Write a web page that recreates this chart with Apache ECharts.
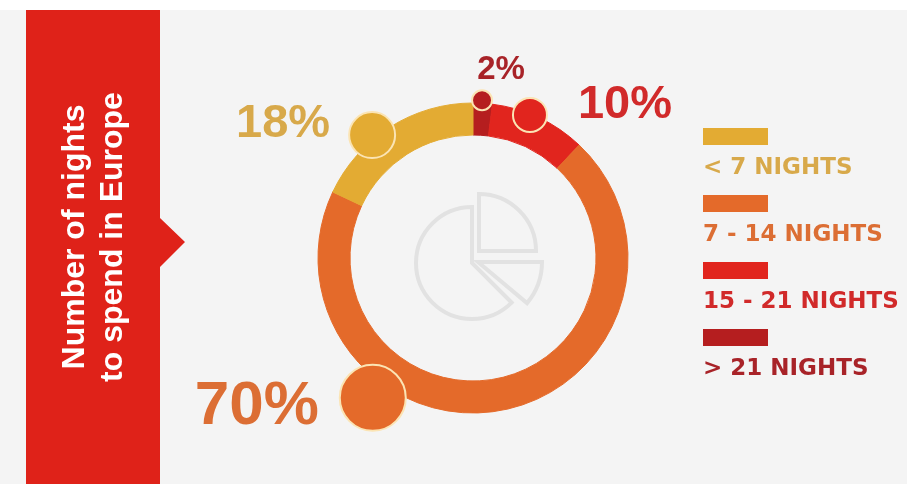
<!DOCTYPE html>
<html>
<head>
<meta charset="utf-8">
<script src="https://cdn.jsdelivr.net/npm/echarts@6/dist/echarts.min.js"></script>
<style>
  html, body { margin: 0; padding: 0; background: #ffffff; }
  #panel { position: absolute; left: 0; top: 10px; width: 907px; height: 474px; background: #f4f4f4; }
  #chart { position: absolute; left: 0; top: 0; width: 907px; height: 484px; }
</style>
</head>
<body>
<div id="panel"></div>
<div id="chart"></div>
<script>
// Share of travellers by length of stay (percent)
const categories = ['< 7 NIGHTS', '7 - 14 NIGHTS', '15 - 21 NIGHTS', '> 21 NIGHTS'];
const shares = [18, 70, 10, 2];
const title = 'Number of nights\nto spend in Europe';

// Styling per category
const fillColors = ['#e3ab33', '#e46a2a', '#e1251e', '#b51e1f'];
const textColors = ['#d8a94a', '#dc6e34', '#d12a2a', '#a82328'];

// Callout bubbles: where they sit along the ring (angle in percent of a turn, radius in px)
const bubbleAngle = [89.06, 59.9, 6.03, 0.91];
const bubbleRadius = [159, 172, 154, 158];
const bubbleSize = [46, 66, 34, 20];
const labelOffset = [[-89, -11], [-116, 9], [95, -10], [19, -30]];
const labelSize = [47, 62, 47, 33];

const CX = 473, CY = 258;

const chart = echarts.init(document.getElementById('chart'), null, { renderer: 'canvas' });

// ring runs clockwise from the top: longest stays first
const order = [3, 2, 1, 0];

const legendGraphics = [];
categories.forEach(function (name, i) {
  legendGraphics.push({
    type: 'rect',
    shape: { x: 703, y: 128 + i * 67, width: 65, height: 17 },
    style: { fill: fillColors[i] }
  });
  legendGraphics.push({
    type: 'text',
    x: 703, y: 168 + i * 67,
    style: {
      text: name,
      fill: textColors[i],
      font: 'bold 23px "DejaVu Sans"',
      align: 'left',
      verticalAlign: 'middle'
    }
  });
});

const iconStroke = { fill: 'none', stroke: '#e2e2e2', lineWidth: 4 };
const iconGraphics = [
  { type: 'sector', shape: { cx: 472, cy: 263, r0: 0, r: 56, startAngle: Math.PI / 4, endAngle: Math.PI * 1.5, clockwise: true }, style: iconStroke },
  { type: 'sector', shape: { cx: 479, cy: 251, r0: 0, r: 57, startAngle: -Math.PI / 2, endAngle: 0, clockwise: true }, style: iconStroke },
  { type: 'sector', shape: { cx: 478, cy: 262, r0: 0, r: 64, startAngle: 0, endAngle: Math.PI * 40 / 180, clockwise: true }, style: iconStroke }
];

const option = {
  backgroundColor: 'transparent',
  animation: false,
  polar: { center: [CX, CY], radius: 200 },
  angleAxis: { type: 'value', min: 0, max: 100, startAngle: 90, clockwise: true, show: false },
  radiusAxis: { type: 'value', min: 0, max: 200, show: false },
  graphic: [
    {
      type: 'polygon',
      shape: { points: [[26, 10], [160, 10], [160, 218], [185, 242], [160, 267], [160, 484], [26, 484]] },
      style: { fill: '#df2219' }
    },
    {
      type: 'text',
      x: 94, y: 237,
      rotation: Math.PI / 2,
      style: {
        text: title,
        fill: '#ffffff',
        font: 'bold 32px "Liberation Sans"',
        align: 'center',
        verticalAlign: 'middle',
        lineHeight: 38
      }
    }
  ].concat(iconGraphics, legendGraphics),
  series: [
    {
      type: 'pie',
      center: [CX, CY],
      radius: [123, 155],
      startAngle: 90,
      clockwise: true,
      padAngle: 0,
      silent: true,
      label: { show: false },
      labelLine: { show: false },
      data: order.map(function (i) {
        return {
          name: categories[i],
          value: shares[i],
          itemStyle: { color: fillColors[i], borderColor: fillColors[i], borderWidth: 1, borderRadius: 0 }
        };
      })
    },
    {
      type: 'scatter',
      coordinateSystem: 'polar',
      clip: false,
      silent: true,
      z: 5,
      itemStyle: { opacity: 1 },
      data: order.map(function (i) {
        return {
          value: [bubbleRadius[i], bubbleAngle[i], shares[i]],
          symbolSize: bubbleSize[i],
          itemStyle: { color: fillColors[i], borderColor: '#fbe4b4', borderWidth: 2, opacity: 1 },
          label: {
            show: true,
            position: 'inside',
            offset: labelOffset[i],
            color: textColors[i],
            fontSize: labelSize[i],
            fontWeight: 'bold',
            fontFamily: 'Liberation Sans',
            opacity: 1
          }
        };
      }),
      label: {
        formatter: function (p) { return p.value[2] + '%'; }
      }
    }
  ]
};

chart.setOption(option);
</script>
</body>
</html>
